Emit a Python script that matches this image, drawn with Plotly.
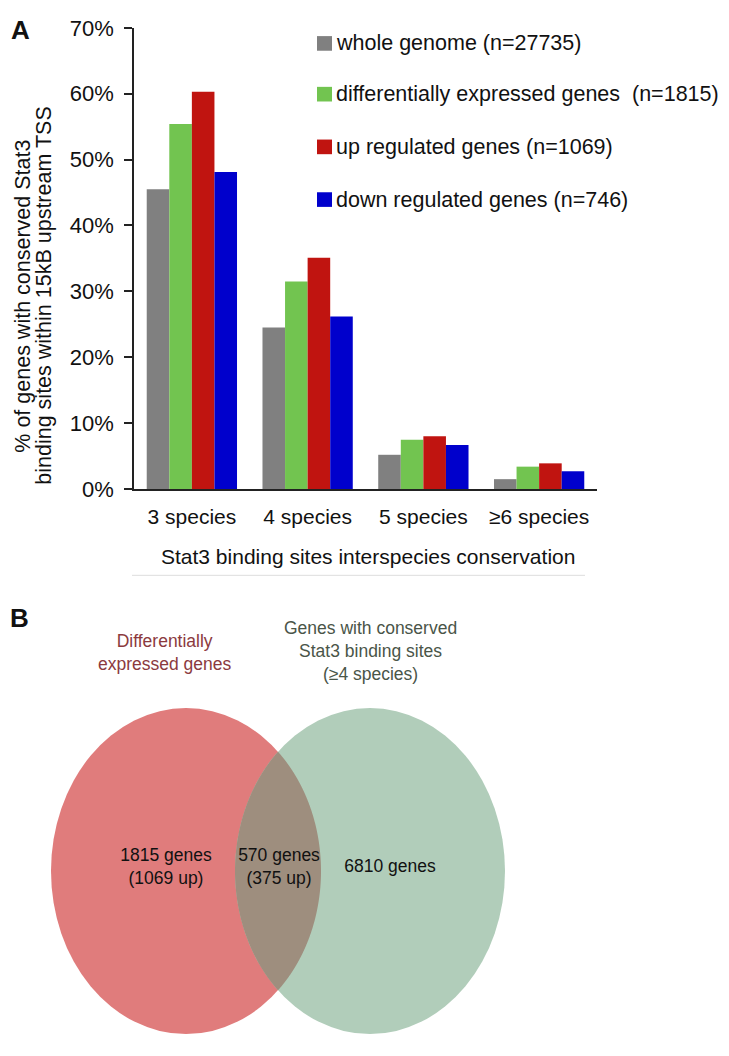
import numpy as np
import plotly.graph_objects as go

PAGE_W, PAGE_H = 729, 1056
OFF = 8  # default page body margin around the figure
W, H = PAGE_W - 2 * OFF, PAGE_H - 2 * OFF  # figure fits exactly inside the window

# ---------------- Data ----------------
categories = ["3 species", "4 species", "5 species", "≥6 species"]
series_names = [
    "whole genome (n=27735)",
    "differentially expressed genes  (n=1815)",
    "up regulated genes (n=1069)",
    "down regulated genes (n=746)",
]
whole_genome = [45.5, 24.5, 5.2, 1.5]
diff_expressed = [55.4, 31.5, 7.5, 3.4]
up_regulated = [60.3, 35.1, 8.0, 3.9]
down_regulated = [48.1, 26.2, 6.7, 2.7]
series_values = [whole_genome, diff_expressed, up_regulated, down_regulated]
series_colors = ["#808080", "#72C450", "#C01410", "#0000CC"]
y_ticks = [0, 10, 20, 30, 40, 50, 60, 70]
y_tick_labels = [f"{v}%" for v in y_ticks]
y_title_lines = ["% of genes with conserved Stat3", "binding sites within 15kB upstream TSS"]
x_title = "Stat3 binding sites interspecies conservation"

venn_set_titles = ["Differentially<br>expressed genes",
                   "Genes with conserved<br>Stat3 binding sites<br>(≥4 species)"]
venn_region_labels = ["1815 genes<br>(1069 up)", "570 genes<br>(375 up)", "6810 genes"]

# ---------------- Layout helpers (page pixel -> paper) ----------------
def px(x):
    return (x - OFF) / W

def py(y):
    return 1 - (y - OFF) / H

plot_left, plot_right = 134, 597
plot_top, plot_bottom = 16, 488.6

fig = go.Figure()
for name, vals, col in zip(series_names, series_values, series_colors):
    fig.add_trace(go.Bar(
        x=categories, y=vals, name=name, marker=dict(color=col, line=dict(width=0)),
        showlegend=False, xaxis="x", yaxis="y",
    ))

# Venn geometry (layout, in page pixel units of the overlay axes)
L = dict(cx=186, cy=880, rx=135, ry=167)
R = dict(cx=370, cy=880, rx=135, ry=167)

def inside(e, x, y):
    return ((x - e["cx"]) / e["rx"]) ** 2 + ((y - e["cy"]) / e["ry"]) ** 2 <= 1

t = np.linspace(-np.pi, np.pi, 2001)
lx = L["cx"] + L["rx"] * np.cos(t)
ly = L["cy"] + L["ry"] * np.sin(t)
mL = inside(R, lx, ly)
t2 = np.linspace(0, 2 * np.pi, 2001)
rx_ = R["cx"] + R["rx"] * np.cos(t2)
ry_ = R["cy"] + R["ry"] * np.sin(t2)
mR = inside(L, rx_, ry_)
lens_x = np.concatenate([lx[mL], rx_[mR]])
lens_y = np.concatenate([ly[mL], ry_[mR]])
lens_path = "M " + " L ".join(f"{a:.2f},{b:.2f}" for a, b in zip(lens_x, lens_y)) + " Z"

shapes = [
    dict(type="circle", xref="x2", yref="y2", x0=L["cx"] - L["rx"], x1=L["cx"] + L["rx"],
         y0=L["cy"] - L["ry"], y1=L["cy"] + L["ry"], fillcolor="#E07C7C", line=dict(width=0),
         layer="below"),
    dict(type="circle", xref="x2", yref="y2", x0=R["cx"] - R["rx"], x1=R["cx"] + R["rx"],
         y0=R["cy"] - R["ry"], y1=R["cy"] + R["ry"], fillcolor="#B1CDBA", line=dict(width=0),
         layer="below"),
    dict(type="path", xref="x2", yref="y2", path=lens_path, fillcolor="#9E8E7E",
         line=dict(width=0), layer="below"),
    dict(type="line", xref="paper", yref="paper", x0=px(132), x1=px(585), y0=py(577), y1=py(577),
         line=dict(color="#DDDDDD", width=1)),
]

# legend keys and labels (manual, to match the reference spacing)
legend_rows_y = [32, 84, 138, 192]
annotations = []
for name, col, yy in zip(series_names, series_colors, legend_rows_y):
    shapes.append(dict(type="rect", xref="paper", yref="paper", x0=px(317), x1=px(332),
                       y0=py(yy - 7.5), y1=py(yy + 7.5), fillcolor=col, line=dict(width=0)))
    annotations.append(dict(text=name, x=px(334), y=py(yy), xref="paper", yref="paper",
                            xanchor="left", yanchor="middle", showarrow=False,
                            font=dict(size=21.5, color="#111")))

font_main = "Liberation Sans, Arial, sans-serif"
fig.add_trace(go.Scatter(
    x=[166, 279, 390], y=[877, 877, 877], mode="text", text=venn_region_labels,
    textfont=dict(family=font_main, size=17.5, color="#111111"), showlegend=False,
    hoverinfo="skip", xaxis="x2", yaxis="y2",
))

# y-axis title: two rotated lines with the reference's tight line spacing
for line_text, xc in zip(y_title_lines, [23.5, 44.5]):
    annotations.append(dict(text=line_text, x=px(xc), y=py(291), xref="paper", yref="paper",
                            textangle=-90, showarrow=False, xanchor="center",
                            yanchor="middle", font=dict(size=21.5, color="#111")))

annotations += [
    dict(text="<b>A</b>", x=px(9), y=py(18), xref="paper", yref="paper", xanchor="left",
         yanchor="middle", showarrow=False, font=dict(size=26, color="#111")),
    dict(text="<b>B</b>", x=px(8), y=py(621), xref="paper", yref="paper", xanchor="left",
         yanchor="middle", showarrow=False, font=dict(size=26, color="#111")),
    dict(text=x_title, x=px(368), y=py(558),
         xref="paper", yref="paper", xanchor="center", yanchor="middle", showarrow=False,
         font=dict(size=21, color="#111")),
    dict(text=venn_set_titles[0], x=px(165), y=py(656), xref="paper", yref="paper",
         xanchor="center", yanchor="middle", showarrow=False,
         font=dict(family=font_main, size=17.5, color="#8B3A3E")),
    dict(text=venn_set_titles[1], x=px(370), y=py(655), xref="paper", yref="paper",
         xanchor="center", yanchor="middle", showarrow=False,
         font=dict(family=font_main, size=17.5, color="#4A5548")),
]

fig.update_layout(
    width=W, height=H, margin=dict(l=0, r=0, t=0, b=0),
    paper_bgcolor="white", plot_bgcolor="rgba(0,0,0,0)",
    font=dict(family=font_main, color="#111", size=18),
    barmode="group", bargap=0.22, bargroupgap=0, showlegend=False,
    xaxis=dict(domain=[px(plot_left), px(plot_right)], anchor="y", showgrid=False,
               showline=True, linecolor="#222", linewidth=1.5, ticks="",
               ticklabelstandoff=8, tickfont=dict(size=21), fixedrange=True),
    yaxis=dict(domain=[py(plot_bottom), py(plot_top)], anchor="x", range=[0, 70],
               tickvals=y_ticks, ticktext=y_tick_labels, showgrid=False, zeroline=False,
               showline=True, linecolor="#222", linewidth=1.5, ticks="outside", ticklen=8,
               tickcolor="#222", tickwidth=1.5, tickfont=dict(size=22),
               ticklabelstandoff=6, ticklabeloverflow="allow", fixedrange=True),
    xaxis2=dict(domain=[0, 1], range=[OFF, W + OFF], anchor="y2", visible=False,
                fixedrange=True),
    yaxis2=dict(domain=[0, 1], range=[H + OFF, OFF], anchor="x2", visible=False,
                fixedrange=True),
    shapes=shapes, annotations=annotations,
)

fig.write_html("out.html")
